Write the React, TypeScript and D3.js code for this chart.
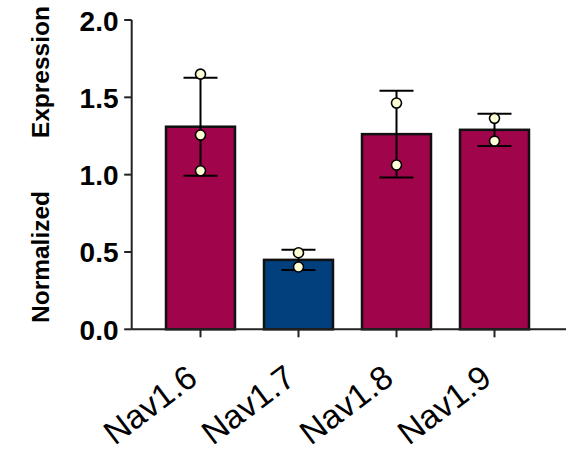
import React from "react";
import * as d3 from "d3";

const categories = ["Nav1.6", "Nav1.7", "Nav1.8", "Nav1.9"];
const means = [1.31, 0.449, 1.262, 1.29];
const sds = [0.317, 0.066, 0.281, 0.104];
const points = [
  [1.65, 1.256, 1.025],
  [0.495, 0.403],
  [1.463, 1.062],
  [1.364, 1.217],
];
const barColors = ["#A0044B", "#013F7D", "#A0044B", "#A0044B"];
const yTicks = [0, 0.5, 1.0, 1.5, 2.0];

const W = 575;
const H = 450;

export default function App() {
  const x = d3
    .scaleBand<string>()
    .domain(categories)
    .range([151.5, 543.5])
    .paddingInner(0.296)
    .paddingOuter(0.148);
  const y = d3.scaleLinear().domain([0, 2]).range([329.3, 20]);
  const axisX = 131.7;
  const bw = x.bandwidth();
  const capHalf = 17;

  return (
    <svg
      width={W}
      height={H}
      style={{ position: "absolute", left: 0, top: 0, background: "#fff" }}
      fontFamily="'Liberation Sans', Arial, sans-serif"
    >
      {/* bars */}
      {categories.map((c, i) => (
        <rect
          key={"b" + c}
          x={x(c)!}
          y={y(means[i])}
          width={bw}
          height={y(0) - y(means[i])}
          fill={barColors[i]}
          stroke="#111"
          strokeWidth={2.5}
        />
      ))}
      {/* error bars */}
      {categories.map((c, i) => {
        const cx = x(c)! + bw / 2;
        const hi = y(means[i] + sds[i]);
        const lo = y(means[i] - sds[i]);
        return (
          <g key={"e" + c} stroke="#000" strokeWidth={2}>
            <line x1={cx} x2={cx} y1={hi} y2={lo} />
            <line x1={cx - capHalf} x2={cx + capHalf} y1={hi} y2={hi} />
            <line x1={cx - capHalf} x2={cx + capHalf} y1={lo} y2={lo} />
          </g>
        );
      })}
      {/* points */}
      {categories.map((c, i) =>
        points[i].map((v, j) => (
          <circle
            key={"p" + c + j}
            cx={x(c)! + bw / 2}
            cy={y(v)}
            r={5}
            fill="#FFFFD6"
            stroke="#000"
            strokeWidth={1.6}
          />
        ))
      )}
      {/* y axis */}
      <line x1={axisX} x2={axisX} y1={y(2)} y2={y(0)} stroke="#222" strokeWidth={2} />
      {yTicks.map((t) => (
        <g key={"yt" + t}>
          <line x1={axisX - 7.5} x2={axisX} y1={y(t)} y2={y(t)} stroke="#222" strokeWidth={2} />
          <text
            x={118.5}
            y={y(t) + 10.5}
            textAnchor="end"
            fontSize={28}
            fontWeight="bold"
            fill="#000"
          >
            {t.toFixed(1)}
          </text>
        </g>
      ))}
      {/* x axis */}
      <line x1={axisX} x2={566} y1={y(0)} y2={y(0)} stroke="#222" strokeWidth={2} />
      {categories.map((c) => {
        const cx = x(c)! + bw / 2;
        return (
          <g key={"xt" + c}>
            <line x1={cx} x2={cx} y1={y(0)} y2={y(0) + 8} stroke="#222" strokeWidth={2} />
            <text
              transform={`translate(${cx - 1},${382}) rotate(-37)`}
              textAnchor="end"
              fontSize={33.5}
              fill="#000"
            >
              {c}
            </text>
          </g>
        );
      })}
      {/* y title */}
      <text
        transform={`translate(48.5,323) rotate(-90)`}
        fontSize={24.5}
        fontWeight="bold"
        fill="#000"
      >
        Normalized
        <tspan dx={46}> Expression</tspan>
      </text>
    </svg>
  );
}
